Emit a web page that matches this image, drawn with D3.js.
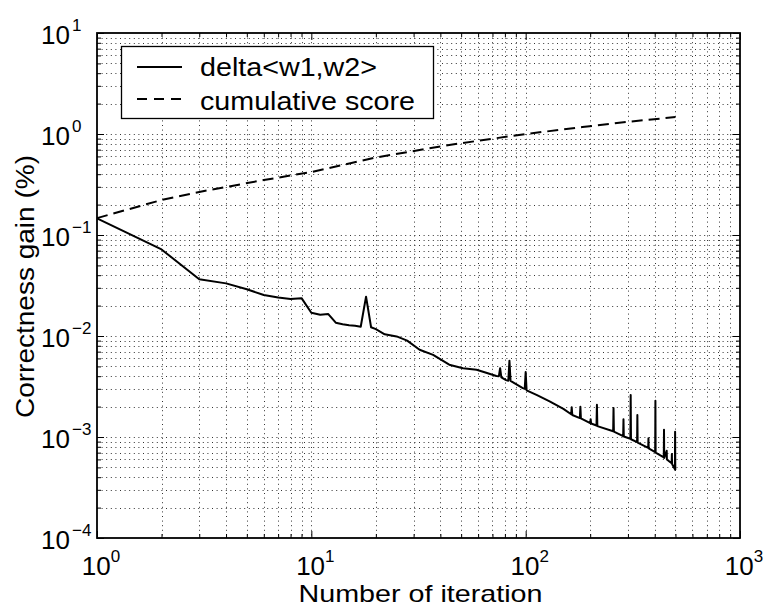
<!DOCTYPE html>
<html><head><meta charset="utf-8">
<script src="https://cdn.jsdelivr.net/npm/d3@7"></script>
<style>body{margin:0;background:#fff}svg{display:block}</style>
</head><body><svg id="c" width="764" height="607"></svg>
<script>
// ---- data ----
const deltaX = [1,2,3,4,5,6,7,8,9,10,11,12,13,14,15,16,17,18,19,20,22,25,28,32,37,44,51,59,66,73,75,76,77,81,83,84,85,97,99,100,101,113,130,150,163,164,165,179,180,181,200,201,202,214,215,216,256,257,258,285,286,287,308,309,310,331,332,333,373,374,375,402,403,404,441,442,443,455,456,470,480,481,482,497,498,499,500];
const deltaY = [0.146,0.072,0.0364,0.0332,0.029,0.0255,0.024,0.0232,0.0237,0.0170,0.0162,0.0165,0.01355,0.0131,0.0128,0.0126,0.01236,0.0245,0.0122,0.0117,0.0104,0.0099,0.0090,0.0073,0.0065,0.0052,0.0048,0.00464,0.0043,0.00402,0.0040,0.0048,0.0039,0.00366,0.0036,0.0057,0.0036,0.00305,0.0030,0.0044,0.0029,0.0026,0.00224,0.0019,0.00168,0.00197,0.00165,0.00154,0.00199,0.00153,0.00137,0.0015,0.00136,0.0013,0.00209,0.00128,0.00114,0.00194,0.00113,0.00102,0.0015,0.00101,0.00096,0.0026,0.00095,0.00089,0.00165,0.00088,0.00078,0.00097,0.00077,0.00071,0.00228,0.00070,0.00063,0.00118,0.00062,0.00073,0.0006,0.00057,0.00055,0.00068,0.00054,0.00048,0.00113,0.00047,0.00047];
const cumX = [1,2,3,6,10,20,44,100,184,300,500];
const cumY = [0.147,0.222,0.267,0.35,0.42,0.585,0.78,1.0,1.17,1.32,1.47];
const seriesNames = ["delta<w1,w2>", "cumulative score"];
const xTickExps = [0,1,2,3];
const yTickExps = [1,0,-1,-2,-3,-4];
const xLabel = "Number of iteration";
const yLabel = "Correctness gain (%)";

// ---- layout ----
const M = {l:97, r:740, t:33, b:538};
const svg = d3.select("#c");
const FONT = "'Liberation Sans', Arial, Helvetica, sans-serif";
const x = d3.scaleLog().domain([1,1000]).range([M.l, M.r]);
const y = d3.scaleLog().domain([1e-4,10]).range([M.b, M.t]);

function logGrid(lo, hi){ const v=[]; for(let e=lo;e<hi;e++) for(let m=1;m<=9;m++) v.push(m*Math.pow(10,e)); v.push(Math.pow(10,hi)); return v; }
const gx = logGrid(0,3), gy = logGrid(-4,1);
const majX = xTickExps.map(e=>Math.pow(10,e)), majY = yTickExps.map(e=>Math.pow(10,e));
const minX = gx.filter(v=>!majX.some(m=>Math.abs(m-v)<1e-9*m));
const minY = gy.filter(v=>!majY.some(m=>Math.abs(m-v)<1e-12+1e-9*m));

// grid
const grid = svg.append("g").attr("stroke","#333").attr("stroke-width",1).attr("stroke-dasharray","1,3.6").attr("fill","none");
gx.filter(v=>v>1&&v<1000).forEach(v=>{ const px=Math.round(x(v))+0.5; grid.append("line").attr("x1",px).attr("x2",px).attr("y1",M.t).attr("y2",M.b); });
gy.filter(v=>v>1e-4*1.0001&&v<10*0.9999).forEach(v=>{ const py=Math.round(y(v))+0.5; grid.append("line").attr("y1",py).attr("y2",py).attr("x1",M.l).attr("x2",M.r); });

// ticks via axes (inward)
function ax(gen, scale, vals, size, tr){
  const g = svg.append("g").attr("transform",tr).call(gen(scale).tickValues(vals).tickSize(size).tickFormat(""));
  g.select(".domain").remove(); g.selectAll("line").attr("stroke","#000").attr("stroke-width",1);
}
ax(d3.axisBottom, x, majX, -7, `translate(0,${M.b})`);
ax(d3.axisBottom, x, minX, -4, `translate(0,${M.b})`);
ax(d3.axisTop, x, majX, -7, `translate(0,${M.t})`);
ax(d3.axisTop, x, minX, -4, `translate(0,${M.t})`);
ax(d3.axisLeft, y, majY, -7, `translate(${M.l},0)`);
ax(d3.axisLeft, y, minY, -4, `translate(${M.l},0)`);
ax(d3.axisRight, y, majY, -7, `translate(${M.r},0)`);
ax(d3.axisRight, y, minY, -4, `translate(${M.r},0)`);

// frame
svg.append("rect").attr("x",M.l).attr("y",M.t).attr("width",M.r-M.l).attr("height",M.b-M.t).attr("fill","none").attr("stroke","#000").attr("stroke-width",1.8);

// lines
const line = d3.line().x(d=>x(d[0])).y(d=>y(d[1]));
svg.append("path").datum(deltaX.map((v,i)=>[v,deltaY[i]])).attr("d",line).attr("fill","none").attr("stroke","#000").attr("stroke-width",2).attr("stroke-linejoin","round");
svg.append("path").datum(cumX.map((v,i)=>[v,cumY[i]])).attr("d",line).attr("fill","none").attr("stroke","#000").attr("stroke-width",2).attr("stroke-dasharray","11,6");

// tick labels
xTickExps.forEach(e=>{
  const t = svg.append("text").attr("x",x(Math.pow(10,e))+4).attr("y",575).attr("text-anchor","middle").attr("font-family",FONT).attr("font-size",26).attr("fill","#000");
  t.append("tspan").text("10");
  t.append("tspan").attr("dy",-13).attr("font-size",17).text(String(e));
});
yTickExps.forEach(e=>{
  const yy = y(Math.pow(10,e));
  svg.append("text").attr("x",70).attr("y",yy+11).attr("text-anchor","end").attr("font-family",FONT).attr("font-size",26).attr("fill","#000").text("10");
  svg.append("text").attr("x",72).attr("y",yy-2).attr("text-anchor","start").attr("font-family",FONT).attr("font-size",17).attr("fill","#000").text(e<0?"\u2212"+(-e):String(e));
});

// axis labels
svg.append("text").attr("x",(M.l+M.r)/2+2).attr("y",602).attr("text-anchor","middle").attr("font-family",FONT).attr("font-size",24)
  .attr("textLength",244).attr("lengthAdjust","spacingAndGlyphs").text(xLabel);
svg.append("text").attr("transform",`translate(34,${(M.t+M.b)/2+1}) rotate(-90)`).attr("text-anchor","middle").attr("font-family",FONT).attr("font-size",26)
  .attr("textLength",263).attr("lengthAdjust","spacingAndGlyphs").text(yLabel);

// legend
const lg = svg.append("g");
lg.append("rect").attr("x",121.5).attr("y",46.5).attr("width",312).attr("height",72).attr("fill","#fff").attr("stroke","#000").attr("stroke-width",1.3);
lg.append("line").attr("x1",137).attr("x2",182).attr("y1",67).attr("y2",67).attr("stroke","#000").attr("stroke-width",2);
lg.append("line").attr("x1",137).attr("x2",185).attr("y1",99).attr("y2",99).attr("stroke","#000").attr("stroke-width",2).attr("stroke-dasharray","10,7");
const lw=[177,215];
seriesNames.forEach((n,i)=>{
  lg.append("text").attr("x",200).attr("y",[76,110][i]).attr("font-family",FONT).attr("font-size",25).attr("textLength",lw[i]).attr("lengthAdjust","spacingAndGlyphs").text(n);
});
</script></body></html>
